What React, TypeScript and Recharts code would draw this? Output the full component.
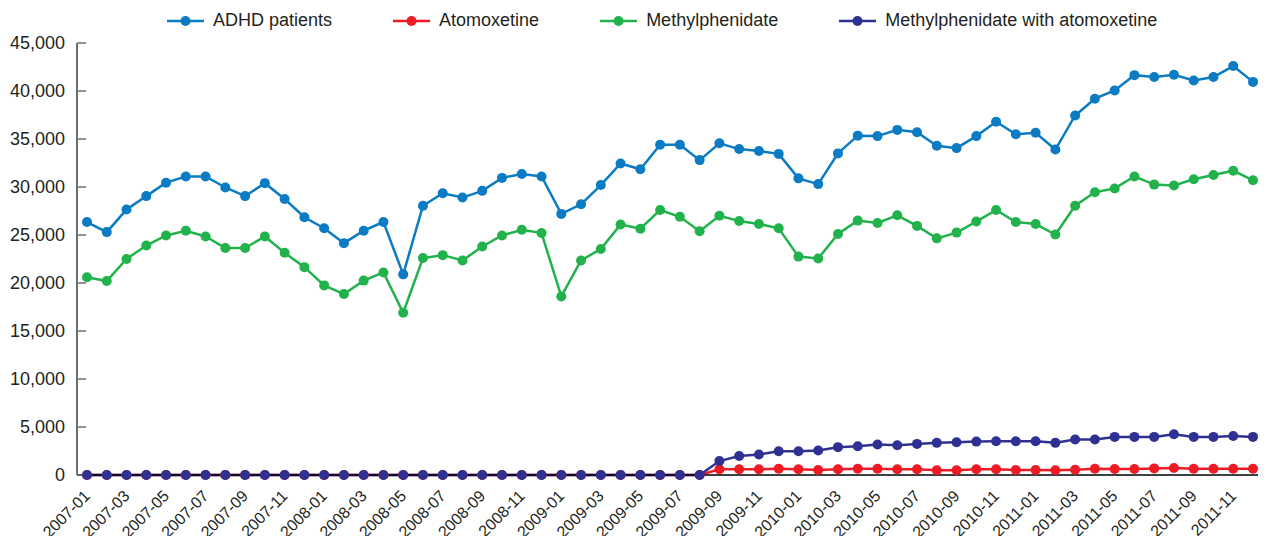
import { LineChart, Line, XAxis, YAxis, Legend } from 'recharts'

const months = [
  '2007-01', '2007-02', '2007-03', '2007-04', '2007-05', '2007-06', '2007-07', '2007-08', '2007-09', '2007-10', '2007-11', '2007-12',
  '2008-01', '2008-02', '2008-03', '2008-04', '2008-05', '2008-06', '2008-07', '2008-08', '2008-09', '2008-10', '2008-11', '2008-12',
  '2009-01', '2009-02', '2009-03', '2009-04', '2009-05', '2009-06', '2009-07', '2009-08', '2009-09', '2009-10', '2009-11', '2009-12',
  '2010-01', '2010-02', '2010-03', '2010-04', '2010-05', '2010-06', '2010-07', '2010-08', '2010-09', '2010-10', '2010-11', '2010-12',
  '2011-01', '2011-02', '2011-03', '2011-04', '2011-05', '2011-06', '2011-07', '2011-08', '2011-09', '2011-10', '2011-11', '2011-12',
]

const adhdPatients = [
  26350, 25300, 27650, 29050, 30450, 31100, 31100, 29950, 29050, 30400, 28750, 26850,
  25700, 24150, 25450, 26350, 20900, 28050, 29350, 28900, 29600, 30950, 31350, 31100,
  27200, 28200, 30200, 32450, 31850, 34400, 34400, 32800, 34550, 33950, 33750, 33450,
  30900, 30300, 33500, 35350, 35300, 35950, 35700, 34300, 34050, 35300, 36800, 35500,
  35650, 33900, 37450, 39200, 40050, 41650, 41450, 41700, 41100, 41450, 42600, 40950,
]

const atomoxetine = [
  0, 0, 0, 0, 0, 0, 0, 0, 0, 0, 0, 0,
  0, 0, 0, 0, 0, 0, 0, 0, 0, 0, 0, 0,
  0, 0, 0, 0, 0, 0, 0, 0, 590, 590, 590, 650,
  590, 520, 590, 650, 650, 590, 590, 490, 490, 590, 590, 520,
  520, 490, 550, 650, 620, 620, 690, 720, 650, 650, 650, 650,
]

const methylphenidate = [
  20600, 20200, 22500, 23900, 24950, 25450, 24850, 23650, 23650, 24850, 23150, 21650,
  19750, 18850, 20250, 21100, 16900, 22600, 22900, 22350, 23800, 24950, 25550, 25200,
  18600, 22350, 23550, 26100, 25650, 27600, 26900, 25400, 27000, 26450, 26150, 25700,
  22750, 22550, 25100, 26500, 26250, 27050, 25950, 24650, 25250, 26400, 27600, 26350,
  26150, 25050, 28050, 29450, 29850, 31100, 30250, 30150, 30800, 31250, 31700, 30700,
]

const combined = [
  0, 0, 0, 0, 0, 0, 0, 0, 0, 0, 0, 0,
  0, 0, 0, 0, 0, 0, 0, 0, 0, 0, 0, 0,
  0, 0, 0, 0, 0, 0, 0, 0, 1450, 1970, 2140, 2480,
  2480, 2550, 2900, 3000, 3170, 3100, 3240, 3350, 3410, 3480, 3520, 3520,
  3520, 3350, 3690, 3690, 3970, 3970, 3970, 4240, 3970, 3970, 4070, 3970,
]

const yTicks = [0, 5000, 10000, 15000, 20000, 25000, 30000, 35000, 40000, 45000]

const data = months.map((month, i) => ({
  month,
  adhd: adhdPatients[i],
  atomoxetine: atomoxetine[i],
  methylphenidate: methylphenidate[i],
  combined: combined[i],
}))

const FONT = '"Liberation Sans", Arial, sans-serif'
const TEXT = '#231f20'

const renderLegend = (props: any) => {
  const { payload } = props
  return (
    <div style={{ display: 'flex', alignItems: 'center', fontFamily: FONT, fontSize: 18, color: TEXT }}>
      {payload.map((entry: any) => (
        <div key={entry.value} style={{ display: 'flex', alignItems: 'center', marginRight: 61 }}>
          <svg width={37} height={12} style={{ marginRight: 9 }}>
            <line x1={0} y1={6} x2={37} y2={6} stroke={entry.color} strokeWidth={2.5} />
            <circle cx={18.5} cy={6} r={5} fill={entry.color} />
          </svg>
          <span>{entry.value}</span>
        </div>
      ))}
    </div>
  )
}

// rotated month label, text ends just right of the tick
const MonthTick = (props: any) => {
  const { x, y, payload } = props
  return (
    <g transform={`translate(${x + 4},${y + 16})`}>
      <text x={0} y={0} textAnchor="end" transform="rotate(-45)" fontFamily={FONT} fontSize={16} fill={TEXT}>
        {payload.value}
      </text>
    </g>
  )
}

export default function App() {
  const dot = (color: string) => ({ r: 5, fill: color, stroke: color, strokeWidth: 0 })
  return (
    <div style={{ margin: -8, background: '#fff' }}>
      <LineChart width={1266} height={544} data={data} margin={{ top: 43, right: 4, left: 0, bottom: 0 }}>
        <XAxis
          dataKey="month"
          interval={1}
          padding={{ left: 10, right: 9 }}
          axisLine={{ stroke: '#000', strokeWidth: 1.5 }}
          tickLine={false}
          height={69}
          tickMargin={0}
          tick={<MonthTick />}
        />
        <YAxis
          domain={[0, 45000]}
          ticks={yTicks}
          width={77}
          axisLine={{ stroke: '#6d6e71', strokeWidth: 2 }}
          tickLine={{ stroke: '#6d6e71', strokeWidth: 1.5 }}
          tickSize={-9}
          tickMargin={21}
          tickFormatter={(v: number) => v.toLocaleString('en-US')}
          tick={{ fontFamily: FONT, fontSize: 18, fill: TEXT }}
        />
        <Legend
          verticalAlign="middle"
          align="center"
          content={renderLegend}
          wrapperStyle={{ top: 10, left: 167, width: 'auto' }}
        />
        <Line type="linear" dataKey="adhd" name="ADHD patients" stroke="#0b7bc3" strokeWidth={2.5} dot={dot('#0b7bc3')} activeDot={false} isAnimationActive={false} />
        <Line type="linear" dataKey="atomoxetine" name="Atomoxetine" stroke="#ed1c24" strokeWidth={2.5} dot={dot('#ed1c24')} activeDot={false} isAnimationActive={false} />
        <Line type="linear" dataKey="methylphenidate" name="Methylphenidate" stroke="#22b24c" strokeWidth={2.5} dot={dot('#22b24c')} activeDot={false} isAnimationActive={false} />
        <Line type="linear" dataKey="combined" name="Methylphenidate with atomoxetine" stroke="#2e3192" strokeWidth={2.5} dot={dot('#2e3192')} activeDot={false} isAnimationActive={false} />
      </LineChart>
    </div>
  )
}
